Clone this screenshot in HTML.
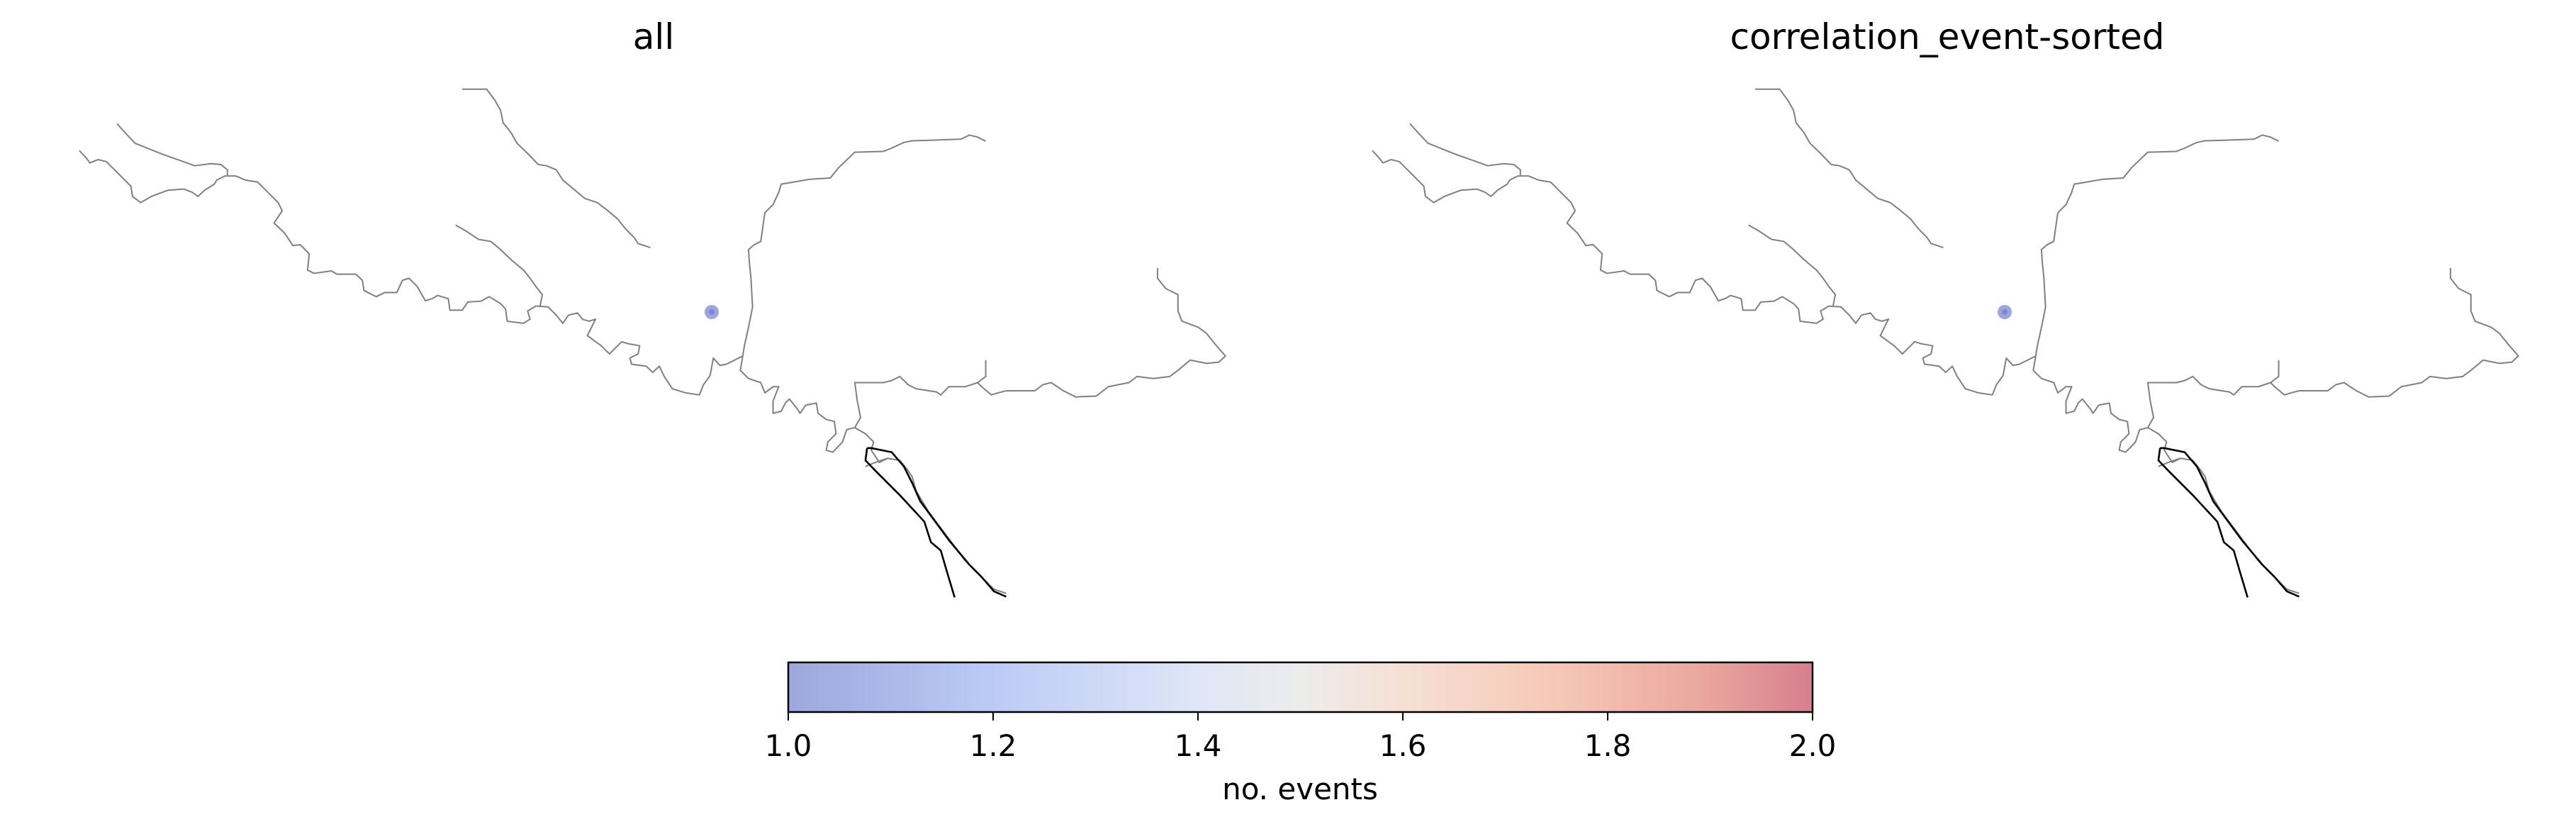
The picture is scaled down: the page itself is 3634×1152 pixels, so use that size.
<!DOCTYPE html>
<html><head><meta charset="utf-8"><style>
html,body{margin:0;padding:0;background:#fff;}
svg{display:block;font-family:"DejaVu Sans","Liberation Sans",sans-serif;}
</style></head><body>
<svg width="3634" height="1152" viewBox="0 0 3634 1152">
<defs>
<linearGradient id="cw" x1="0" x2="1" y1="0" y2="0">
<stop offset="0" stop-color="#9da7dc"/>
<stop offset="0.2" stop-color="#bccbf6"/>
<stop offset="0.4" stop-color="#dfe6f6"/>
<stop offset="0.5" stop-color="#ececec"/>
<stop offset="0.6" stop-color="#f6e0d5"/>
<stop offset="0.75" stop-color="#f6c8b6"/>
<stop offset="0.9" stop-color="#e9a59d"/>
<stop offset="1" stop-color="#d67f8d"/>
</linearGradient>
<g id="map">
<g transform="scale(1.154,0.577)" fill="none" stroke="#808080" stroke-width="2" stroke-linejoin="round">
<polyline vector-effect="non-scaling-stroke" points="143,302 150,318 165,350 180,362 200,378 220,392 238,405 258,400 270,402 278,415 278,428"/>
<polyline vector-effect="non-scaling-stroke" points="97,368 105,385 110,398 120,390 130,395 140,415 150,435 160,455 162,480 172,495 185,480 205,465 225,462 235,470 242,480 250,465 262,450 265,440 275,430 288,430 300,440 315,445 325,465 340,495 345,515 335,545 348,570 358,600 367,598 378,620 376,660 384,668 405,662 412,670 435,670 443,685 445,710 460,725 470,715 485,715 492,685 500,680 510,700 520,735 528,730 535,722 548,730 550,758 565,758 572,738 588,736 598,725 612,742 618,755 620,785 640,790 648,780 645,760 655,748 670,750 680,770 688,790 695,770 706,765 712,780 720,785 728,780 718,820 735,845 745,865 760,835 768,840 782,845 780,865 770,875 772,890 790,895 798,910 806,895 812,920 822,950 838,960 855,965 860,940 868,918 872,875 880,893 888,890 900,878 908,870 910,845 915,800 920,750 918,680 916,640 915,610 922,598 930,590 935,520 945,500 952,470 955,450 970,445 990,438 1015,435 1025,410 1045,372 1080,370 1090,362 1105,348 1115,344 1135,343 1175,340 1185,330 1195,335 1205,345"/>
<polyline vector-effect="non-scaling-stroke" points="565,218 595,218 605,245 612,270 615,300 625,325 632,350 645,375 658,402 668,405 680,415 688,440 700,460 715,485 730,495 740,510 755,535 765,560 775,580 780,595 795,605"/>
<polyline vector-effect="non-scaling-stroke" points="557,550 570,565 585,585 600,590 612,610 625,635 640,660 648,680 655,700 663,720 660,750"/>
<polyline vector-effect="non-scaling-stroke" points="908,870 905,905 915,925 930,935 935,960 945,945 952,945 945,980 945,1010 955,1005 960,985 965,975 975,1000 978,1010 985,990 998,985 1000,1010 1010,1025 1020,1030 1022,1060 1012,1080 1010,1100 1018,1105 1030,1080 1035,1050 1045,1045 1058,1060 1068,1080 1065,1100 1075,1130 1085,1120 1100,1125 1110,1150 1115,1165 1120,1200 1135,1250 1150,1290 1165,1330 1180,1370 1200,1410 1215,1440 1230,1450"/>
<polyline vector-effect="non-scaling-stroke" points="1045,1045 1052,1020 1048,980 1045,935 1080,935 1090,930 1100,920 1110,940 1120,950 1145,958 1150,965 1160,945 1180,945 1195,935 1200,945 1212,965 1220,960 1230,955 1265,955 1275,940 1285,935 1300,955 1315,970 1340,968 1355,945 1380,935 1390,920 1410,925 1430,920 1440,905 1455,880 1475,888 1490,885 1498,870 1485,840 1475,815 1465,800 1445,785 1440,760 1440,720 1425,705 1415,680 1415,655"/>
<polyline vector-effect="non-scaling-stroke" points="1205,880 1205,920 1195,935"/>
<polyline vector-effect="non-scaling-stroke" points="1058,1140 1070,1130 1085,1120"/>
<polyline vector-effect="non-scaling-stroke" stroke="#000" stroke-width="2.6" points="1060,1095 1065,1095 1090,1105 1105,1140 1115,1180 1125,1225 1160,1320 1185,1380 1200,1410 1215,1445 1230,1458"/>
<polyline vector-effect="non-scaling-stroke" stroke="#000" stroke-width="2.6" points="1060,1095 1058,1125 1070,1150 1100,1210 1130,1275 1138,1325 1150,1345 1158,1400 1167,1460"/>
</g>
</g>
</defs>

<g>
<text x="922" y="69" font-size="50" text-anchor="middle">all</text>
<use href="#map"/>
<circle cx="1004" cy="440" r="10" fill="rgba(59,76,192,0.5)"/>
<circle cx="1004" cy="440" r="4" fill="rgba(59,76,192,0.35)"/>
</g>

<g>
<text x="2747" y="69" font-size="50" text-anchor="middle">correlation_event-sorted</text>
<use href="#map" transform="translate(1824,0)"/>
<circle cx="2828" cy="440" r="10" fill="rgba(59,76,192,0.5)"/>
<circle cx="2828" cy="440" r="4" fill="rgba(59,76,192,0.35)"/>
</g>

<g id="cbar">
<rect x="1112" y="934" width="1445" height="70" fill="url(#cw)" stroke="#000" stroke-width="2.5"/>
<text x="1834" y="1127" font-size="42" text-anchor="middle">no. events</text>
</g>
<script>
const tickValues = [1.0, 1.2, 1.4, 1.6, 1.8, 2.0];
const tickLabels = ["1.0", "1.2", "1.4", "1.6", "1.8", "2.0"];
const NS = "http://www.w3.org/2000/svg";
const cb = document.getElementById("cbar");
const x0 = 1112, x1 = 2557, vmin = 1.0, vmax = 2.0;
function xs(v){ return x0 + (v - vmin) / (vmax - vmin) * (x1 - x0); }
tickValues.forEach((v, i) => {
  const l = document.createElementNS(NS, "line");
  l.setAttribute("x1", xs(v)); l.setAttribute("x2", xs(v));
  l.setAttribute("y1", 1004); l.setAttribute("y2", 1016);
  l.setAttribute("stroke", "#000"); l.setAttribute("stroke-width", "2");
  
  
  cb.appendChild(l);
  const t = document.createElementNS(NS, "text");
  t.setAttribute("x", xs(v)); t.setAttribute("y", 1066);
  t.setAttribute("font-size", "42"); t.setAttribute("text-anchor", "middle");
  t.textContent = tickLabels[i];
  
  
  cb.appendChild(t);
});
</script>
</svg>
</body></html>
